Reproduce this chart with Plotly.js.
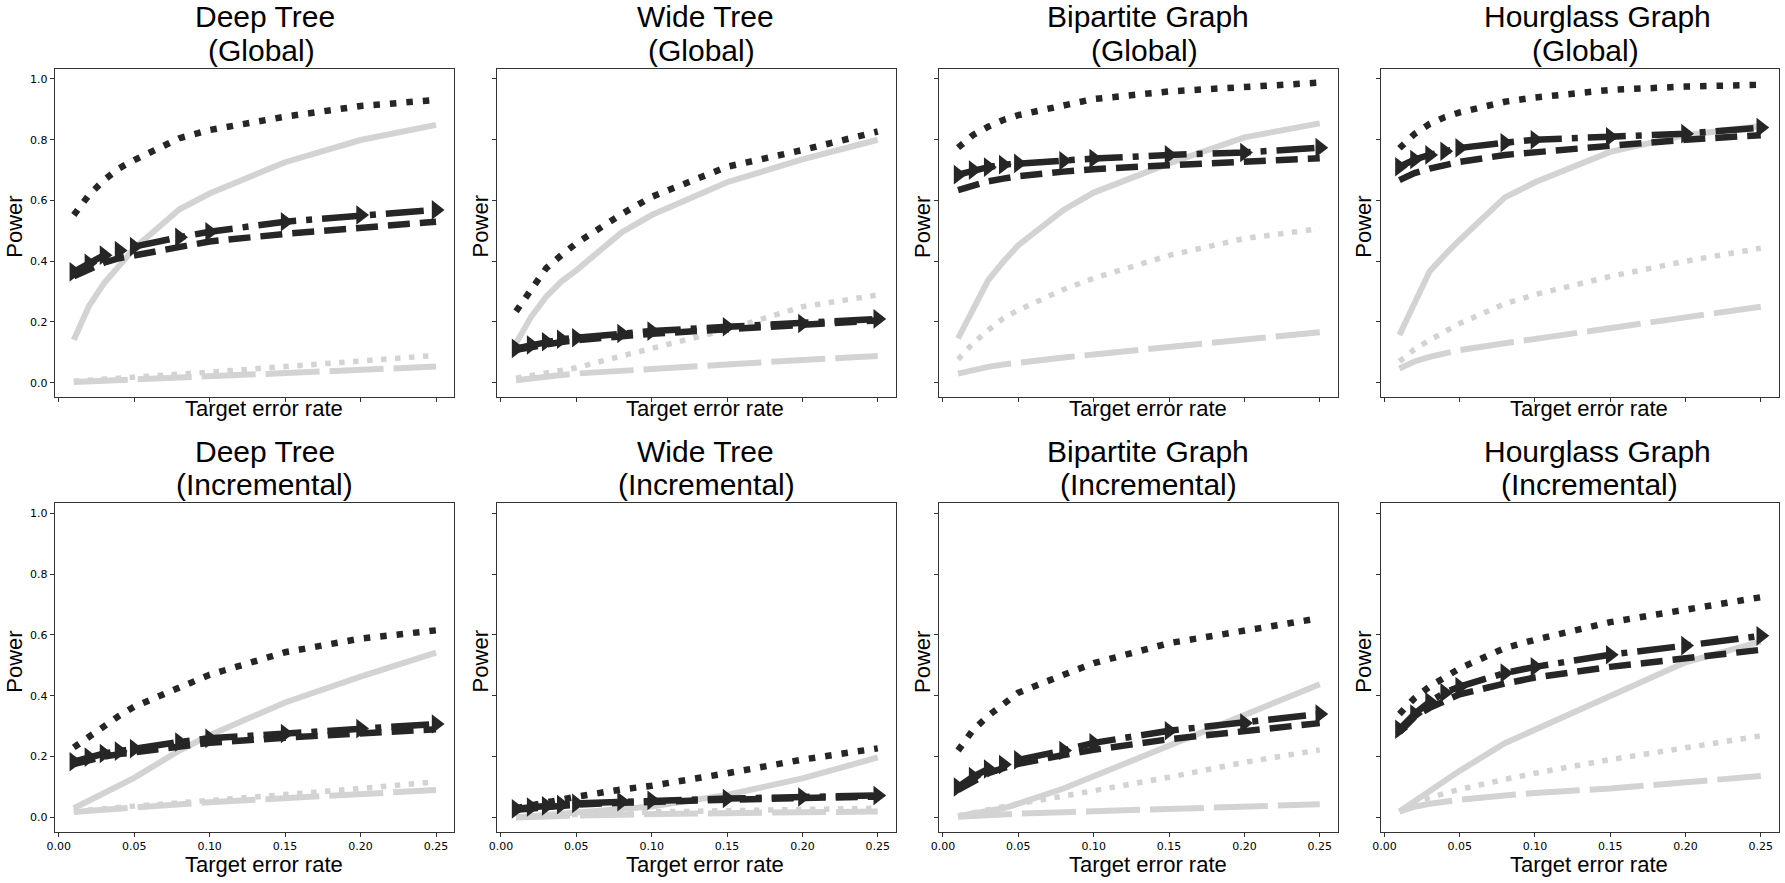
<!DOCTYPE html>
<html>
<head>
<meta charset="utf-8">
<script src="https://cdn.plot.ly/plotly-3.0.1.min.js"></script>
<style>html,body{margin:0;padding:0;background:#fff;}#chart{width:1785px;height:883px;}</style>
</head>
<body>
<div id="chart"></div>
<script>
// ---------------- DATA ----------------
const errorRates = [0.01, 0.02, 0.03, 0.04, 0.05, 0.08, 0.1, 0.15, 0.2, 0.25];
const structureNames = ["Deep Tree", "Wide Tree", "Bipartite Graph", "Hourglass Graph"];
const modeNames = ["(Global)", "(Incremental)"];
const xTickVals = [0, 0.05, 0.1, 0.15, 0.2, 0.25];
const yTickVals = [0, 0.2, 0.4, 0.6, 0.8, 1.0];
const xAxisLabel = "Target error rate";
const yAxisLabel = "Power";

// Deep Tree (Global)
const DG_blackDotted = [0.552,0.618,0.667,0.706,0.733,0.805,0.832,0.876,0.911,0.931];
const DG_blackArrow  = [0.365,0.393,0.420,0.435,0.448,0.479,0.497,0.530,0.552,0.569];
const DG_blackDashed = [0.350,0.375,0.395,0.410,0.420,0.450,0.465,0.490,0.510,0.530];
const DG_graySolid   = [0.141,0.252,0.327,0.387,0.442,0.571,0.623,0.726,0.799,0.849];
const DG_grayDotted  = [0.005,0.008,0.011,0.015,0.018,0.028,0.035,0.053,0.072,0.090];
const DG_grayDashed  = [0.002,0.004,0.006,0.008,0.010,0.017,0.022,0.032,0.043,0.053];
// Wide Tree (Global)
const WG_blackDotted = [0.235,0.305,0.377,0.420,0.459,0.555,0.612,0.711,0.766,0.827];
const WG_blackArrow  = [0.113,0.124,0.135,0.143,0.148,0.162,0.170,0.184,0.195,0.210];
const WG_blackDashed = [0.108,0.118,0.127,0.134,0.140,0.153,0.161,0.176,0.190,0.205];
const WG_graySolid   = [0.130,0.217,0.283,0.333,0.370,0.495,0.552,0.660,0.735,0.800];
const WG_grayDotted  = [0.015,0.023,0.032,0.040,0.049,0.088,0.113,0.175,0.250,0.289];
const WG_grayDashed  = [0.008,0.015,0.020,0.025,0.030,0.040,0.047,0.060,0.075,0.088];
// Bipartite Graph (Global)
const BG_blackDotted = [0.774,0.816,0.843,0.865,0.881,0.914,0.934,0.959,0.975,0.988];
const BG_blackArrow  = [0.685,0.700,0.710,0.718,0.722,0.731,0.738,0.750,0.758,0.774];
const BG_blackDashed = [0.634,0.650,0.663,0.672,0.680,0.695,0.703,0.716,0.727,0.739];
const BG_graySolid   = [0.146,0.245,0.338,0.398,0.453,0.569,0.626,0.722,0.808,0.854];
const BG_grayDotted  = [0.077,0.130,0.173,0.212,0.239,0.307,0.344,0.419,0.475,0.507];
const BG_grayDashed  = [0.030,0.042,0.052,0.060,0.067,0.083,0.093,0.118,0.142,0.166];
// Hourglass Graph (Global)
const HG_blackDotted = [0.772,0.819,0.852,0.874,0.890,0.925,0.939,0.964,0.975,0.981];
const HG_blackArrow  = [0.711,0.735,0.750,0.762,0.773,0.790,0.800,0.810,0.820,0.840];
const HG_blackDashed = [0.667,0.690,0.705,0.717,0.727,0.750,0.760,0.780,0.800,0.815];
const HG_graySolid   = [0.157,0.260,0.366,0.420,0.470,0.610,0.660,0.760,0.815,0.845];
const HG_grayDotted  = [0.070,0.110,0.140,0.170,0.195,0.260,0.290,0.350,0.400,0.443];
const HG_grayDashed  = [0.047,0.070,0.085,0.097,0.107,0.130,0.145,0.180,0.215,0.250];
// Deep Tree (Incremental)
const DI_blackDotted = [0.230,0.266,0.304,0.334,0.364,0.430,0.469,0.543,0.588,0.615];
const DI_blackArrow  = [0.183,0.198,0.210,0.218,0.226,0.248,0.260,0.276,0.292,0.307];
const DI_blackDashed = [0.175,0.190,0.200,0.208,0.215,0.235,0.245,0.262,0.277,0.290];
const DI_graySolid   = [0.030,0.055,0.080,0.105,0.130,0.220,0.270,0.378,0.463,0.542];
const DI_grayDotted  = [0.020,0.025,0.030,0.033,0.037,0.048,0.055,0.075,0.095,0.117];
const DI_grayDashed  = [0.018,0.022,0.026,0.030,0.033,0.043,0.050,0.063,0.077,0.090];
// Wide Tree (Incremental)
const WI_blackDotted = [0.030,0.040,0.050,0.060,0.068,0.092,0.104,0.145,0.190,0.227];
const WI_blackArrow  = [0.028,0.034,0.038,0.042,0.046,0.052,0.056,0.062,0.067,0.072];
const WI_blackDashed = [0.025,0.030,0.034,0.038,0.042,0.048,0.052,0.058,0.064,0.068];
const WI_graySolid   = [0.000,0.004,0.008,0.012,0.016,0.028,0.036,0.074,0.128,0.197];
const WI_grayDotted  = [0.002,0.004,0.006,0.008,0.010,0.015,0.018,0.022,0.026,0.030];
const WI_grayDashed  = [0.000,0.002,0.004,0.005,0.006,0.009,0.011,0.014,0.017,0.019];
// Bipartite Graph (Incremental)
const BI_blackDotted = [0.220,0.288,0.334,0.372,0.410,0.469,0.507,0.573,0.616,0.655];
const BI_blackArrow  = [0.100,0.134,0.159,0.174,0.189,0.220,0.245,0.285,0.310,0.340];
const BI_blackDashed = [0.090,0.120,0.145,0.162,0.176,0.205,0.222,0.257,0.285,0.310];
const BI_graySolid   = [0.004,0.012,0.020,0.030,0.045,0.095,0.135,0.235,0.338,0.438];
const BI_grayDotted  = [0.005,0.015,0.025,0.035,0.045,0.070,0.087,0.132,0.181,0.222];
const BI_grayDashed  = [0.002,0.005,0.008,0.010,0.012,0.017,0.020,0.027,0.035,0.043];
// Hourglass Graph (Incremental)
const HI_blackDotted = [0.340,0.392,0.430,0.458,0.490,0.557,0.584,0.642,0.683,0.724];
const HI_blackArrow  = [0.290,0.340,0.380,0.410,0.430,0.475,0.495,0.535,0.565,0.597];
const HI_blackDashed = [0.280,0.330,0.360,0.385,0.405,0.440,0.460,0.495,0.525,0.551];
const HI_graySolid   = [0.019,0.054,0.089,0.123,0.153,0.244,0.288,0.403,0.510,0.578];
const HI_grayDotted  = [0.020,0.050,0.065,0.080,0.092,0.125,0.145,0.190,0.230,0.268];
const HI_grayDashed  = [0.019,0.035,0.045,0.052,0.058,0.072,0.080,0.095,0.115,0.136];

// ---------------- BUILD ----------------
const panelSeries = [
  [DG_graySolid, DG_grayDotted, DG_grayDashed, DG_blackDashed, DG_blackArrow, DG_blackDotted],
  [WG_graySolid, WG_grayDotted, WG_grayDashed, WG_blackDashed, WG_blackArrow, WG_blackDotted],
  [BG_graySolid, BG_grayDotted, BG_grayDashed, BG_blackDashed, BG_blackArrow, BG_blackDotted],
  [HG_graySolid, HG_grayDotted, HG_grayDashed, HG_blackDashed, HG_blackArrow, HG_blackDotted],
  [DI_graySolid, DI_grayDotted, DI_grayDashed, DI_blackDashed, DI_blackArrow, DI_blackDotted],
  [WI_graySolid, WI_grayDotted, WI_grayDashed, WI_blackDashed, WI_blackArrow, WI_blackDotted],
  [BI_graySolid, BI_grayDotted, BI_grayDashed, BI_blackDashed, BI_blackArrow, BI_blackDotted],
  [HI_graySolid, HI_grayDotted, HI_grayDashed, HI_blackDashed, HI_blackArrow, HI_blackDotted]
];

const GRAY = '#d3d3d3', BLACK = '#262626';
const styles = [
  {color: GRAY,  width: 6,   dash: 'solid'},
  {color: GRAY,  width: 5.5, dash: '5.5px,8.5px'},
  {color: GRAY,  width: 6,   dash: '54px,10px'},
  {color: BLACK, width: 6.5, dash: '22px,10px'},
  {color: BLACK, width: 6.5, dash: '38px,10px,6px,10px', marker: true},
  {color: BLACK, width: 6.5, dash: '6.5px,10px'}
];

const W = 1785, H = 883;
const fx = p => p / W;
const fy = p => 1 - p / H;

const colLeft = [55, 497.3, 939.3, 1380.7];
const colRight = [454, 895.7, 1337.7, 1778.7];
const rowTop = [69, 503.3];
const rowBottom = [397, 831.7];

const title1X = [265, 705, 1148, 1597];
const title2X = [[261, 701.7, 1144, 1585], [264.3, 706, 1148, 1589.5]];
const title1Y = [16.9, 451.2];
const title2Y = [50.7, 484.9];
const xLabX = [263.8, 705, 1147.5, 1589];
const xLabY = [409, 864];
const yLabX = [15, 480.7, 922.3, 1364];
const yLabY = [226.7, 661.7];

const FONT = 'Liberation Sans, Arial, Helvetica, sans-serif';
const TICKFONT = {family: 'DejaVu Sans, sans-serif', size: 11, color: '#000'};

const traces = [];
const layout = {
  width: W, height: H,
  margin: {l: 0, r: 0, t: 0, b: 0, pad: 0},
  paper_bgcolor: '#fff', plot_bgcolor: '#fff',
  showlegend: false,
  annotations: []
};

for (let i = 0; i < 8; i++) {
  const row = Math.floor(i / 4), col = i % 4;
  const n = i === 0 ? '' : String(i + 1);
  panelSeries[i].forEach((ys, k) => {
    const st = styles[k];
    const t = {
      type: 'scatter',
      x: errorRates, y: ys,
      xaxis: 'x' + n, yaxis: 'y' + n,
      mode: st.marker ? 'lines+markers' : 'lines',
      line: {color: st.color, width: st.width, dash: st.dash},
      hoverinfo: 'skip'
    };
    if (st.marker) t.marker = {symbol: 'triangle-right', size: 17, color: BLACK, line: {width: 0}};
    traces.push(t);
  });
  const axCommon = {
    showline: true, mirror: true, linecolor: '#333', linewidth: 1.2,
    ticks: 'outside', ticklen: 4, tickwidth: 1, tickcolor: '#333',
    showgrid: false, zeroline: false, tickfont: TICKFONT, fixedrange: true
  };
  layout['xaxis' + n] = Object.assign({}, axCommon, {
    domain: [fx(colLeft[col]), fx(colRight[col])],
    anchor: 'y' + n,
    range: [-0.00245, 0.2619],
    tickmode: 'array', tickvals: xTickVals,
    ticktext: xTickVals.map(v => v.toFixed(2)),
    showticklabels: row === 1
  });
  layout['yaxis' + n] = Object.assign({}, axCommon, {
    domain: [fy(rowBottom[row]), fy(rowTop[row])],
    anchor: 'x' + n,
    range: [-0.0471, 1.0329],
    tickmode: 'array', tickvals: yTickVals,
    ticktext: yTickVals.map(v => v.toFixed(1)),
    showticklabels: col === 0
  });
  const ann = (text, x, y, size, angle) => ({
    text: text, xref: 'paper', yref: 'paper', x: fx(x), y: fy(y),
    xanchor: 'center', yanchor: 'middle', showarrow: false,
    textangle: angle || 0,
    font: {family: FONT, size: size, color: '#000'}
  });
  layout.annotations.push(ann(structureNames[col], title1X[col], title1Y[row], 30));
  layout.annotations.push(ann(modeNames[row], title2X[row][col], title2Y[row], 30));
  layout.annotations.push(ann(xAxisLabel, xLabX[col], xLabY[row], 22));
  layout.annotations.push(ann(yAxisLabel, yLabX[col], yLabY[row], 22, -90));
}

Plotly.newPlot('chart', traces, layout, {staticPlot: true, displayModeBar: false});
</script>
</body>
</html>
